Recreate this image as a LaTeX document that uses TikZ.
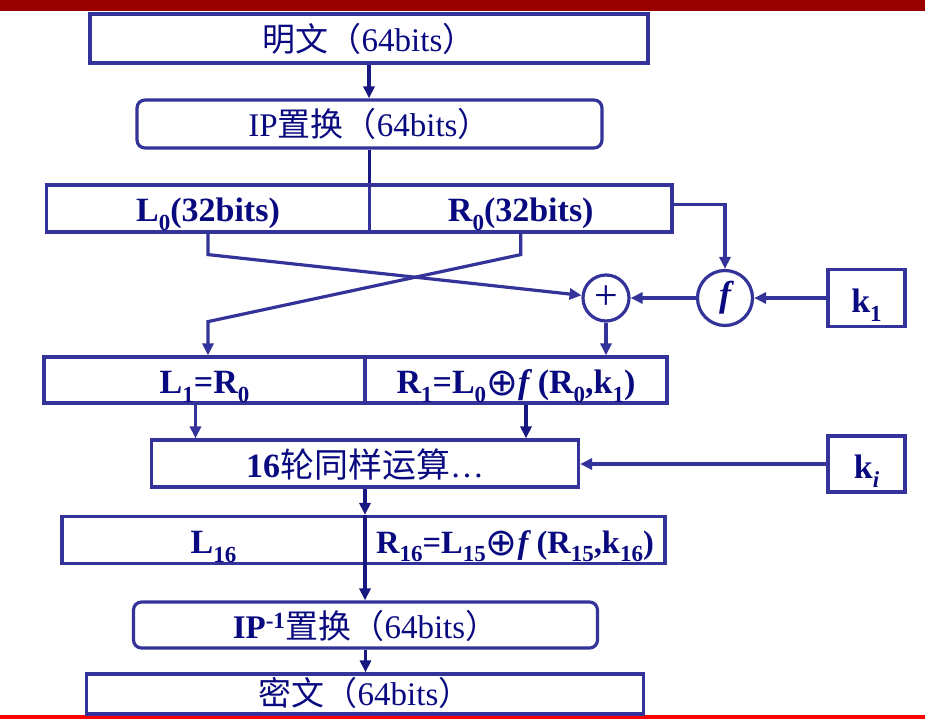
\documentclass[tikz,border=0pt]{standalone}
\usepackage{fontspec}
\setmainfont{Liberation Serif}
\newfontfamily\cjk{Noto Sans CJK SC}
\newfontfamily\symf{DejaVu Sans}
\usepackage{tikz}
\usetikzlibrary{arrows.meta, calc}
\definecolor{boxblue}{RGB}{51,51,153}
\definecolor{flownavy}{RGB}{24,24,128}
\definecolor{txtnavy}{RGB}{10,10,128}
\definecolor{barred}{RGB}{153,0,0}
\newcommand{\sub}[1]{\raisebox{-0.25em}{\fontsize{23}{23}\selectfont #1}}
\newcommand{\xorsym}{{\symf\mdseries\fontsize{38}{38}\selectfont\raisebox{-0.06em}{⊕}}}
\newcommand{\normfnt}{\fontsize{33}{36}\selectfont}
\newcommand{\boldfnt}{\fontsize{34}{36}\selectfont\bfseries}

\begin{document}
\begin{tikzpicture}[x=1pt, y=-1pt, >={Triangle[length=12pt, width=11pt]},
    box/.style={draw=boxblue, line width=3.2pt, inner sep=0pt, text=txtnavy, font=\normfnt,
        text height=26pt, text depth=0pt},
    bbox/.style={box, font=\boldfnt, text height=27pt},
    rbox/.style={box, rounded corners=8pt},
    ring/.style={circle, draw=boxblue, line width=3.2pt, inner sep=0pt, text=txtnavy},
    link/.style={draw=boxblue, line width=3.2pt},
    flow/.style={draw=flownavy, line width=3.2pt}]
    \useasboundingbox (0,0) rectangle (925,719);
    \fill[barred] (0,0) rectangle (925,11);
    \fill[red] (0,715) rectangle (925,718.5);

    \node[box, minimum width=558, minimum height=49] (plain) at (369,38.5) {{\cjk 明文（}64bits{\cjk ）}};
    \node[rbox, minimum width=465, minimum height=48] (ip) at (369.5,124) {IP{\cjk 置换（}64bits{\cjk ）}};
    \node[bbox, minimum width=323.5, minimum height=47] (l0) at (208,208.5) {L\sub{0}(32bits)};
    \node[bbox, minimum width=302.5, minimum height=47] (r0) at (520.75,208.5) {R\sub{0}(32bits)};
    \node[ring, minimum size=46, font=\fontsize{42}{42}\selectfont] (xor) at (606,298) {+};
    \node[ring, minimum size=55, font=\fontsize{36}{36}\selectfont\bfseries\itshape] (fn) at (725,298) {f};
    \node[bbox, minimum width=77, minimum height=57, text height=29pt] (k1) at (866.5,298) {k\sub{1}};
    \node[bbox, minimum width=321, minimum height=46] (l1) at (204.5,380) {L\sub{1}=R\sub{0}};
    \node[bbox, minimum width=302, minimum height=46] (r1) at (516,380) {R\sub{1}=L\sub{0}\xorsym\textit{f}\,(R\sub{0},k\sub{1})};
    \node[bbox, minimum width=427, minimum height=47] (rnd) at (365,463.5) {16{\cjk\mdseries 轮同样运算}\mdseries…};
    \node[bbox, minimum width=77, minimum height=56, text height=29pt] (ki) at (866.5,464) {k\sub{\textit{i}}};
    \node[bbox, minimum width=303, minimum height=47] (l16) at (213.5,540) {L\sub{16}};
    \node[bbox, minimum width=300, minimum height=47, font=\fontsize{32.5}{36}\selectfont\bfseries] (r16) at (515,540) {R\sub{16}=L\sub{15}\xorsym\textit{f}\,(R\sub{15},k\sub{16})};
    \node[rbox, minimum width=464, minimum height=46] (invip) at (365.5,625) {\textbf{IP\textsuperscript{-1}}{\cjk 置换（}64bits{\cjk ）}};
    \node[box, minimum width=557, minimum height=40, text height=23pt] (cipher) at (365,694) {{\cjk 密文（}64bits{\cjk ）}};

    \draw[flow, ->] (plain.south) -- (plain.south |- ip.north);
    \draw[flow] (ip.south) -- (ip.south |- l0.north);
    % swap of the two halves
    \draw[link, ->] (l0.south) -- ++(0,21) -- (xor);
    \draw[link, ->] (r0.south) -- ++(0,21) -- ($(l0.south)+(0,88)$) -- (l0.south |- l1.north);
    \draw[link, ->] ([yshift=4pt]r0.east) -| (fn.north);
    \draw[link, ->] (k1.west) -- (fn.east);
    \draw[link, ->] (fn.west) -- (xor.east);
    \draw[link, ->] (xor.south) -- (xor.south |- r1.north);
    \draw[link, ->] ([xshift=-9pt]l1.south) -- ([xshift=-9pt]l1.south |- rnd.north);
    \draw[flow, ->] ([xshift=10pt]r1.south) -- ([xshift=10pt]r1.south |- rnd.north);
    \draw[link, ->] (ki.west) -- (ki.west -| rnd.east);
    \draw[flow, ->] (rnd.south) -- (rnd.south |- l16.north);
    \draw[flow, ->] (rnd.south |- l16.north) -- (rnd.south |- invip.north);
    \draw[flow, ->] (invip.south) -- (invip.south |- cipher.north);
\end{tikzpicture}
\end{document}
